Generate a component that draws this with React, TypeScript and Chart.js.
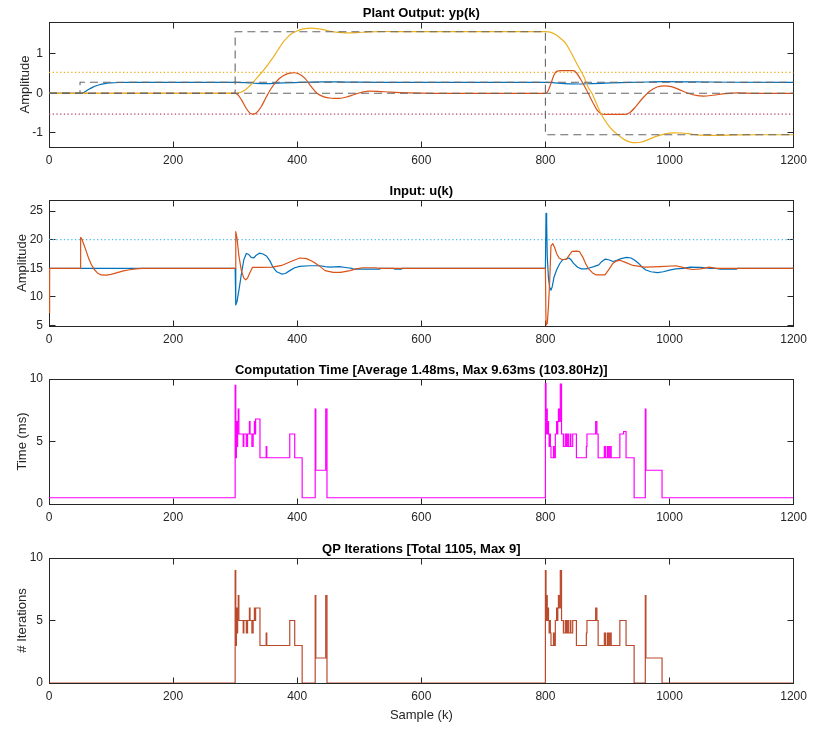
import React, { useEffect, useRef } from "react";
import { Chart, registerables } from "chart.js";

Chart.register(...registerables);

type Pt = [number, number];

// ---------- Plant output yp(k) ----------
const outBlue: Pt[] = [
  [0, 0], [53, 0], [56, 0.02], [60, 0.06], [65, 0.11], [70, 0.15], [75, 0.185], [80, 0.21], [90, 0.245],
  [100, 0.262], [112, 0.273], [130, 0.278], [300, 0.278], [318, 0.27], [335, 0.25], [350, 0.245], [368, 0.255],
  [395, 0.272], [440, 0.29], [480, 0.285], [530, 0.278], [800, 0.278], [812, 0.27], [830, 0.245], [852, 0.235],
  [875, 0.245], [905, 0.262], [950, 0.28], [990, 0.295], [1040, 0.29], [1100, 0.28], [1200, 0.278],
];
const outOrange: Pt[] = [
  [0, 0], [300, 0], [304, -0.03], [310, -0.16], [317, -0.36], [323, -0.49], [328, -0.53], [334, -0.5],
  [342, -0.34], [350, -0.1], [358, 0.12], [367, 0.31], [378, 0.45], [388, 0.51], [396, 0.52], [404, 0.48],
  [413, 0.37], [422, 0.18], [432, 0.0], [443, -0.09], [455, -0.125], [466, -0.13], [478, -0.1], [492, -0.03],
  [505, 0.03], [517, 0.055], [530, 0.05], [550, 0.03], [580, 0.01], [620, 0], [800, 0], [804, 0.05],
  [809, 0.25], [814, 0.47], [819, 0.56], [826, 0.575], [845, 0.575], [850, 0.52], [857, 0.35], [863, 0.18],
  [869, 0.0], [876, -0.22], [883, -0.42], [890, -0.52], [896, -0.535], [928, -0.535], [935, -0.5],
  [945, -0.35], [957, -0.12], [968, 0.05], [980, 0.16], [992, 0.19], [1003, 0.17], [1015, 0.1], [1030, 0.0],
  [1045, -0.06], [1055, -0.07], [1070, -0.05], [1090, -0.01], [1110, 0.01], [1140, 0.0], [1200, 0],
];
const outYellow: Pt[] = [
  [0, 0], [300, 0], [308, 0.02], [315, 0.07], [321, 0.15], [328, 0.26], [335, 0.39], [343, 0.53], [350, 0.67],
  [358, 0.84], [365, 1.0], [372, 1.17], [378, 1.31], [385, 1.43], [392, 1.52], [400, 1.58], [410, 1.63],
  [423, 1.65], [435, 1.63], [448, 1.59], [462, 1.55], [478, 1.53], [495, 1.535], [515, 1.555], [540, 1.565],
  [580, 1.56], [800, 1.56], [808, 1.55], [817, 1.48], [825, 1.38], [833, 1.26], [840, 1.07], [849, 0.8],
  [857, 0.57], [862, 0.42], [866, 0.27], [870, 0.12], [875, 0.0], [882, -0.25], [890, -0.53], [900, -0.78],
  [908, -0.93], [917, -1.05], [928, -1.18], [937, -1.235], [945, -1.25], [953, -1.24], [962, -1.2],
  [975, -1.11], [990, -1.04], [1006, -1.0], [1020, -1.005], [1035, -1.035], [1050, -1.06], [1075, -1.065],
  [1110, -1.055], [1150, -1.05], [1200, -1.05],
];
// references (held until the next change point)
const refBlue: Pt[] = [[0, 0], [50, 0.28], [1200, 0.28]];
const refOrange: Pt[] = [[0, 0], [1200, 0]];
const refYellow: Pt[] = [[0, 0], [300, 1.56], [800, -1.05], [1200, -1.05]];
const outUpperLimit = 0.53;
const outLowerLimit = -0.53;

// ---------- Input u(k) ----------
const inBlue: Pt[] = [
  [0, 15], [300, 15], [301, 8.6], [303, 9.2], [305, 10.5], [307, 11.8], [310, 14.0], [314, 16.5], [318, 17.6],
  [322, 17.4], [326, 16.9], [330, 16.8], [334, 17.3], [339, 17.65], [345, 17.5], [351, 17.1], [356, 16.3],
  [361, 15.2], [367, 14.4], [375, 14.0], [381, 14.1], [388, 14.6], [396, 15.1], [404, 15.35], [420, 15.45],
  [437, 15.45], [445, 15.3], [453, 15.2], [460, 15.25], [468, 15.3], [478, 15.15], [488, 15.0], [490, 14.85],
  [532, 14.85], [533, 15], [556, 15], [557, 14.85], [568, 14.85], [569, 15], [800, 15], [801, 24.6],
  [802, 23], [803, 17], [805, 13.2], [807, 11.6], [809, 11.2], [811, 11.8], [814, 13.5], [818, 14.7],
  [823, 15.8], [828, 16.5], [833, 16.6], [838, 16.8], [842, 16.4], [845, 15.9], [852, 15.2], [858, 14.9],
  [866, 14.9], [872, 15.1], [878, 15.3], [886, 15.6], [891, 16.2], [896, 16.6], [902, 16.5], [909, 16.2],
  [915, 16.4], [922, 16.7], [931, 16.9], [938, 16.8], [944, 16.4], [950, 15.9], [956, 15.2], [962, 14.7],
  [970, 14.4], [981, 14.25], [990, 14.4], [1000, 14.7], [1010, 14.9], [1022, 15.0], [1033, 15.2],
  [1050, 15.15], [1066, 15.0], [1075, 15], [1082, 14.85], [1108, 14.85], [1109, 15], [1200, 15],
];
const inOrange: Pt[] = [
  [0, 7.3], [1, 15], [50, 15], [51, 20.4], [53, 20.1], [56, 19.2], [60, 18.0], [64, 16.7], [68, 15.7],
  [73, 14.8], [78, 14.2], [84, 13.85], [92, 13.8], [100, 13.95], [110, 14.25], [120, 14.55], [130, 14.75],
  [140, 14.9], [150, 15], [300, 15], [301, 21.4], [303, 20.3], [306, 17.2], [310, 14.6], [314, 13.3],
  [317, 13.0], [320, 13.3], [324, 14.3], [328, 15.15], [340, 15.15], [360, 15.2], [375, 15.5], [390, 16.2],
  [404, 16.8], [415, 16.7], [425, 16.2], [437, 15.3], [445, 14.6], [458, 14.3], [470, 14.3], [485, 14.6],
  [495, 14.9], [505, 15.1], [525, 15.1], [535, 15], [800, 15], [801, 5.1], [803, 5.4], [805, 8.5],
  [807, 13.0], [809, 18.9], [812, 19.3], [815, 18.6], [818, 17.6], [822, 16.8], [828, 16.5], [834, 16.6],
  [839, 17.4], [843, 17.95], [850, 18.0], [855, 17.9], [860, 17.0], [865, 15.8], [869, 15.0], [876, 14.2],
  [882, 13.85], [896, 13.85], [903, 14.9], [909, 15.9], [915, 16.3], [920, 16.4], [930, 16.0], [941, 15.5],
  [960, 15.2], [985, 15.3], [1010, 15.45], [1020, 15.2], [1027, 15.0], [1037, 14.8], [1050, 14.9],
  [1064, 15.2], [1075, 15.0], [1200, 15],
];
const inUpperLimit = 20;

// ---------- Solver statistics, held between change points ----------
const statSamples = [
  0, 300, 301, 302, 303, 304, 305, 306, 313, 314, 318, 320, 323, 324, 327, 329, 331, 332, 333, 340, 350, 351,
  388, 396, 408, 429, 430, 446, 448,
  800, 801, 802, 803, 804, 805, 806, 807, 808, 809, 813, 814, 816, 818, 819, 820, 821, 823, 824, 826, 829,
  832, 834, 836, 837, 840, 841, 844, 850, 866, 867, 881, 883, 885, 895, 897, 900, 902, 904, 906, 920, 926,
  930, 943, 961, 962, 988, 1200,
];
const qpIterations = [
  0, 9, 3, 6, 4, 6, 7, 5, 4, 5, 4, 5, 6, 5, 4, 5, 6, 5, 6, 3, 4, 3,
  5, 3, 0, 7, 2, 7, 0,
  9, 5, 7, 5, 6, 5, 4, 5, 4, 3, 4, 3, 5, 6, 5, 6, 7, 6, 9, 5, 4,
  5, 4, 5, 4, 5, 4, 5, 3, 4, 5, 6, 5, 3, 4, 3, 4, 3, 4, 3, 5, 5,
  3, 0, 7, 2, 0, 0,
];
const compTimeMs = [
  0.5, 9.5, 3.7, 6.6, 4.6, 6.6, 7.6, 5.6, 4.6, 5.6, 4.6, 5.6, 6.6, 5.6, 4.6, 5.6, 6.6, 5.6, 6.8, 3.7, 4.6, 3.7,
  5.6, 3.7, 0.5, 7.6, 2.7, 7.6, 0.5,
  9.63, 5.6, 7.6, 5.6, 6.6, 5.6, 4.6, 5.6, 4.6, 3.7, 4.6, 3.7, 5.6, 6.6, 5.6, 6.6, 7.6, 6.6, 9.6, 5.6, 4.6,
  5.6, 4.6, 5.6, 4.6, 5.6, 4.6, 5.6, 3.7, 4.6, 5.6, 6.6, 5.6, 3.7, 4.6, 3.7, 4.6, 3.7, 4.6, 3.7, 5.6, 5.8,
  3.7, 0.5, 7.6, 2.7, 0.5, 0.5,
];

const sampleTicks = [0, 200, 400, 600, 800, 1000, 1200];

// ---------- styling ----------
const W = 822;
const H = 731;
const FONT = "'Liberation Sans', Arial, Helvetica, sans-serif";
const AXIS = "#262626";
const BLUE = "#0072BD";
const ORANGE = "#D95319";
const YELLOW = "#EDB120";
const REF_GRAY = "#666666";
const MAGENTA = "#FF00FF";
const RUST = "#BA4A2C";
const LOWER_LIMIT = "#B8456A";
const INPUT_LIMIT = "#4DBEEE";
const AREA_LEFT = 49;
const AREA_RIGHT = 793.6;
const TICK_LEN = 6;

const toXY = (pts: Pt[]) => pts.map(([x, y]) => ({ x, y }));
const stepXY = (xs: number[], ys: number[]) => xs.map((x, i) => ({ x, y: ys[i] }));

const series = (data: { x: number; y: number }[], color: string, extra: Record<string, unknown> = {}) => ({
  data,
  borderColor: color,
  borderWidth: 1.2,
  pointRadius: 0,
  fill: false,
  tension: 0,
  borderJoinStyle: "round",
  ...extra,
});
const dashed = { borderDash: [8, 5], stepped: "before", borderWidth: 1.1 };
const dotted = { borderDash: [1.3, 2.4], borderWidth: 1.3 };
const smooth = { cubicInterpolationMode: "monotone" };
const held = { stepped: "before", borderJoinStyle: "miter" };

// Box, inward ticks and bold panel heading (MATLAB-like axes)
const axesFrame = {
  id: "axesFrame",
  beforeDatasetsDraw(chart: any) {
    const { ctx, chartArea: a, scales } = chart;
    const heading = chart.options.plugins.axesFrame.title;
    const L = Math.floor(a.left) + 0.5;
    const R = Math.floor(a.right) + 0.5;
    const T = Math.floor(a.top) + 0.5;
    const B = Math.floor(a.bottom) + 0.5;
    ctx.save();
    ctx.strokeStyle = AXIS;
    ctx.lineWidth = 1;
    ctx.strokeRect(L, T, R - L, B - T);
    ctx.beginPath();
    for (const t of scales.x.ticks) {
      const px = Math.floor(scales.x.getPixelForValue(t.value)) + 0.5;
      ctx.moveTo(px, T);
      ctx.lineTo(px, T + TICK_LEN);
      ctx.moveTo(px, B);
      ctx.lineTo(px, B - TICK_LEN);
    }
    for (const t of scales.y.ticks) {
      const py = Math.floor(scales.y.getPixelForValue(t.value)) + 0.5;
      ctx.moveTo(L, py);
      ctx.lineTo(L + TICK_LEN, py);
      ctx.moveTo(R, py);
      ctx.lineTo(R - TICK_LEN, py);
    }
    ctx.stroke();
    ctx.fillStyle = "#000000";
    ctx.font = `bold 13px ${FONT}`;
    ctx.textAlign = "center";
    ctx.textBaseline = "alphabetic";
    ctx.fillText(heading, (a.left + a.right) / 2, a.top - 5.5);
    ctx.restore();
  },
};

type PanelSpec = {
  title: string;
  top: number;
  bottom: number;
  yMin: number;
  yMax: number;
  yTicks: number[];
  yLabel: string;
  yLabelGap: number;
  xLabel?: string;
  datasets: any[];
};

function buildConfig(p: PanelSpec) {
  const xh = p.xLabel ? 46 : 30;
  return {
    type: "line",
    data: { datasets: p.datasets },
    plugins: [axesFrame],
    options: {
      responsive: false,
      maintainAspectRatio: false,
      devicePixelRatio: 1,
      animation: false,
      events: [],
      layout: {
        padding: { left: 0, top: p.top, right: W - AREA_RIGHT, bottom: H - p.bottom - xh },
      },
      plugins: {
        legend: { display: false },
        tooltip: { enabled: false },
        title: { display: false },
        axesFrame: { title: p.title },
      },
      scales: {
        x: {
          type: "linear",
          min: 0,
          max: 1200,
          grid: { display: false, drawTicks: false },
          border: { display: false },
          afterBuildTicks: (s: any) => {
            s.ticks = sampleTicks.map((v) => ({ value: v }));
          },
          afterFit: (s: any) => {
            s.height = xh;
          },
          ticks: {
            color: AXIS,
            padding: 6.9,
            maxRotation: 0,
            autoSkip: false,
            font: { family: FONT, size: 12 },
            callback: (v: number) => String(v),
          },
          title: {
            display: !!p.xLabel,
            text: p.xLabel || "",
            color: AXIS,
            font: { family: FONT, size: 13 },
            padding: { top: 0, bottom: 5.7 },
          },
        },
        y: {
          type: "linear",
          min: p.yMin,
          max: p.yMax,
          grid: { display: false, drawTicks: false },
          border: { display: false },
          afterBuildTicks: (s: any) => {
            s.ticks = p.yTicks.map((v) => ({ value: v }));
          },
          afterFit: (s: any) => {
            s.width = AREA_LEFT;
          },
          ticks: {
            color: AXIS,
            padding: 6,
            autoSkip: false,
            font: { family: FONT, size: 12 },
            callback: (v: number) => String(v),
          },
          title: {
            display: true,
            text: p.yLabel,
            color: AXIS,
            font: { family: FONT, size: 13 },
            padding: { top: p.yLabelGap, bottom: 0 },
          },
        },
      },
    },
  };
}

const panels: PanelSpec[] = [
  {
    title: "Plant Output: yp(k)",
    top: 22,
    bottom: 147,
    yMin: -1.36,
    yMax: 1.805,
    yTicks: [-1, 0, 1],
    yLabel: "Amplitude",
    yLabelGap: 18,
    datasets: [
      series(toXY(refYellow), REF_GRAY, dashed),
      series(toXY(refOrange), REF_GRAY, dashed),
      series(toXY(refBlue), REF_GRAY, dashed),
      series(toXY(outYellow), YELLOW, smooth),
      series(toXY(outOrange), ORANGE, smooth),
      series(toXY(outBlue), BLUE, smooth),
      series(toXY([[0, outUpperLimit], [1200, outUpperLimit]]), YELLOW, dotted),
      series(toXY([[0, outLowerLimit], [1200, outLowerLimit]]), LOWER_LIMIT, dotted),
    ],
  },
  {
    title: "Input: u(k)",
    top: 200,
    bottom: 326,
    yMin: 4.94,
    yMax: 26.92,
    yTicks: [5, 10, 15, 20, 25],
    yLabel: "Amplitude",
    yLabelGap: 15,
    datasets: [
      series(toXY(inOrange), ORANGE),
      series(toXY(inBlue), BLUE),
      series(toXY([[0, inUpperLimit], [1200, inUpperLimit]]), INPUT_LIMIT, dotted),
    ],
  },
  {
    title: "Computation Time [Average 1.48ms, Max 9.63ms (103.80Hz)]",
    top: 379,
    bottom: 504,
    yMin: 0,
    yMax: 10,
    yTicks: [0, 5, 10],
    yLabel: "Time (ms)",
    yLabelGap: 15,
    datasets: [series(stepXY(statSamples, compTimeMs), MAGENTA, held)],
  },
  {
    title: "QP Iterations [Total 1105, Max 9]",
    top: 558,
    bottom: 683,
    yMin: 0,
    yMax: 10,
    yTicks: [0, 5, 10],
    yLabel: "# Iterations",
    yLabelGap: 15,
    xLabel: "Sample (k)",
    datasets: [series(stepXY(statSamples, qpIterations), RUST, held)],
  },
];

function PanelCanvas({ spec }: { spec: PanelSpec }) {
  const ref = useRef<HTMLCanvasElement>(null);
  useEffect(() => {
    if (!ref.current) return;
    const chart = new Chart(ref.current, buildConfig(spec) as any);
    return () => chart.destroy();
  }, [spec]);
  return (
    <canvas
      ref={ref}
      width={W}
      height={H}
      style={{ position: "absolute", left: 0, top: 0, width: W, height: H }}
    />
  );
}

export default function App() {
  return (
    <div style={{ position: "absolute", left: 0, top: 0, width: W, height: H, background: "#ffffff" }}>
      {panels.map((p) => (
        <PanelCanvas key={p.title} spec={p} />
      ))}
    </div>
  );
}
